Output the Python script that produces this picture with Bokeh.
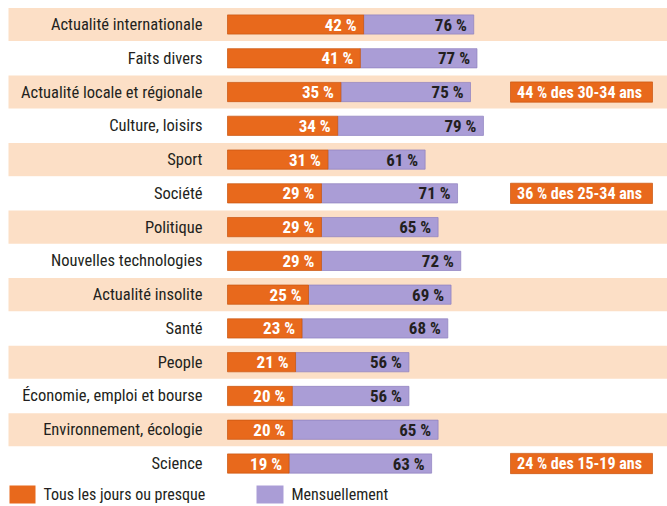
from bokeh.plotting import figure
from bokeh.models import Range1d, ColumnDataSource
from bokeh.core.properties import value
from bokeh.embed import file_html
from bokeh.resources import INLINE

categories = ["Actualité internationale", "Faits divers", "Actualité locale et régionale",
              "Culture, loisirs", "Sport", "Société", "Politique", "Nouvelles technologies",
              "Actualité insolite", "Santé", "People", "Économie, emploi et bourse",
              "Environnement, écologie", "Science"]
daily = [42, 41, 35, 34, 31, 29, 29, 29, 25, 23, 21, 20, 20, 19]
monthly = [76, 77, 75, 79, 61, 71, 65, 72, 69, 68, 56, 56, 65, 63]
callout_cats = ["Actualité locale et régionale", "Société", "Science"]
callout_texts = ["44 % des 30-34 ans", "36 % des 25-34 ans", "24 % des 15-19 ans"]
series_names = ["Tous les jours ou presque", "Mensuellement"]

ORANGE = "#E8691C"
ORANGE_EDGE = "#C9540E"
PURPLE = "#AA9DD6"
PURPLE_EDGE = "#8E80BE"
BAND = "#FCDFC6"
DARK = "#231F20"
FONT = "Roboto Condensed"

W, H = 667, 506
PX = 3.24          # pixels per percent
X0 = 227           # pixel of 0 %
ROW = 33.77        # pixels per row
Y0 = 24            # pixel of first row centre


def dx(px):
    return (px - X0) / PX


def dy(py):
    return (py - Y0) / ROW


x_start, x_end = dx(0), dx(W)
y_top, y_bottom = dy(0), dy(H)

p = figure(width=W, height=H, output_backend="svg", toolbar_location=None,
           x_range=Range1d(x_start, x_end), y_range=Range1d(y_bottom, y_top),
           min_border=0, outline_line_color=None)
p.axis.visible = False
p.grid.visible = False
p.background_fill_color = "white"
p.border_fill_color = "white"

rows = list(range(len(categories)))
n = len(rows)
src = ColumnDataSource(dict(
    y=rows, cat=categories, daily=daily, monthly=monthly,
    dlab=[f"{v} %" for v in daily], mlab=[f"{v} %" for v in monthly],
    bl=[dx(8)] * n, br=[x_end + 5] * n,
    band=[BAND if i % 2 == 0 else "white" for i in rows],
    zero=[0] * n, labx=[dx(202)] * n,
))

# alternating bands
p.hbar(y="y", left="bl", right="br", height=0.98, fill_color="band", line_color=None, source=src)

# bars
p.hbar(y="y", left="daily", right="monthly", height=0.57, fill_color=PURPLE,
       line_color=PURPLE_EDGE, line_width=0.7, source=src)
p.hbar(y="y", left="zero", right="daily", height=0.57, fill_color=ORANGE,
       line_color=ORANGE_EDGE, line_width=0.7, source=src)

# category labels
p.text(x="labx", y="y", text="cat", source=src, text_align="right", text_baseline="middle",
       text_font=value(FONT), text_font_size="16.5px", text_color=DARK)

# value labels
p.text(x="daily", y="y", text="dlab", source=src, x_offset=-7, text_align="right",
       text_baseline="middle", text_font=value(FONT), text_font_size="17px",
       text_font_style="bold", text_color="white")
p.text(x="monthly", y="y", text="mlab", source=src, x_offset=-7, text_align="right",
       text_baseline="middle", text_font=value(FONT), text_font_size="17px",
       text_font_style="bold", text_color=DARK)

# callouts
cy = [categories.index(c) for c in callout_cats]
k = len(cy)
csrc = ColumnDataSource(dict(y=cy, t=callout_texts,
                             l=[dx(510)] * k, r=[dx(652)] * k, xm=[dx(579)] * k))
p.hbar(y="y", left="l", right="r", height=0.6, fill_color=ORANGE, line_color=ORANGE_EDGE,
       line_width=0.7, source=csrc)
p.text(x="xm", y="y", text="t", source=csrc, text_align="center", text_baseline="middle",
       text_font=value(FONT), text_font_size="16px", text_font_style="bold", text_color="white")

# legend (manual)
lsrc = ColumnDataSource(dict(
    l=[dx(9), dx(256)], r=[dx(35), dx(283)],
    y=[dy(494), dy(494)], c=[ORANGE, PURPLE], t=series_names,
    tx=[dx(43), dx(291)], ty=[dy(494), dy(494)]))
p.hbar(y="y", left="l", right="r", height=18 / ROW, fill_color="c", line_color=None, source=lsrc)
p.text(x="tx", y="ty", text="t", source=lsrc, text_align="left", text_baseline="middle",
       text_font=value(FONT), text_font_size="16px", text_color=DARK)

open("out.html", "w").write(file_html(p, INLINE))
